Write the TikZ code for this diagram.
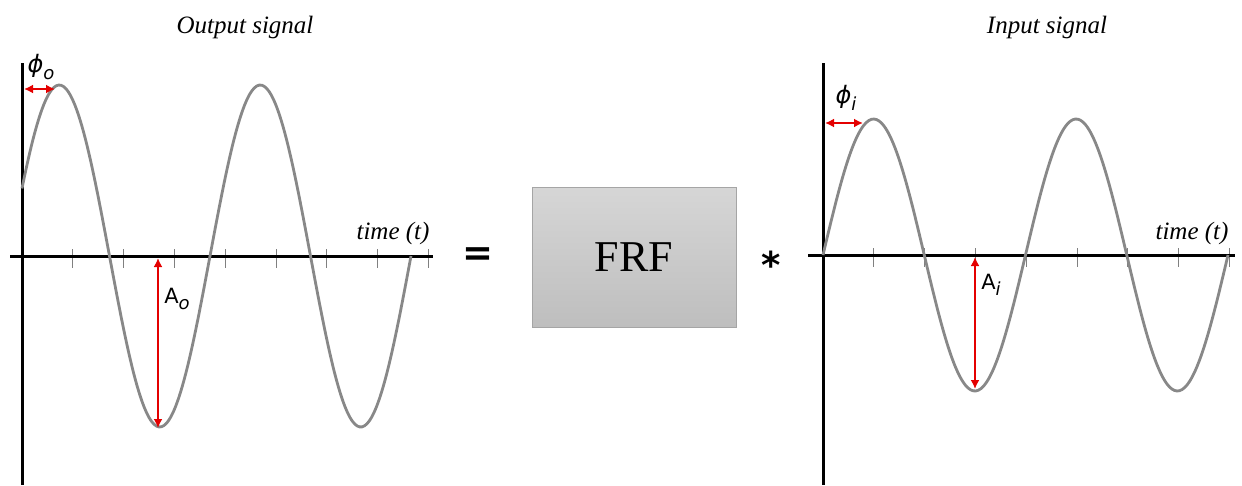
\documentclass[tikz,border=0pt]{standalone}
\usepackage{fontspec}
\setmainfont{Liberation Serif}
\newfontfamily\labelfont{DejaVu Sans}
\usetikzlibrary{arrows.meta}
\definecolor{wavegray}{RGB}{136,136,136}
\definecolor{markred}{RGB}{228,0,0}
\definecolor{boxtop}{RGB}{214,214,214}
\definecolor{boxbottom}{RGB}{190,190,190}
\definecolor{boxedge}{RGB}{165,165,165}
\newcommand{\labsub}[1]{\raisebox{-0.55ex}{\fontsize{18}{18}\selectfont\itshape #1}}

\begin{document}
\begin{tikzpicture}[x=1pt,y=-1pt]
\tikzset{
  axisline/.style={line width=3pt},
  tickline/.style={draw=gray,line width=0.9pt},
  wave/.style={draw=wavegray,line width=2.8pt},
  dimarrow/.style={{Latex[length=9pt,width=9pt]}-{Latex[length=9pt,width=9pt]},draw=markred,line width=2.2pt},
  title/.style={font=\fontsize{25}{28}\selectfont\itshape},
  symlabel/.style={font=\labelfont\fontsize{21}{24}\selectfont,inner sep=0pt},
  opsign/.style={font=\labelfont\bfseries\fontsize{37}{40}\selectfont},
  frfbox/.style={rectangle,draw=boxedge,top color=boxtop,bottom color=boxbottom,minimum width=204pt,minimum height=140pt,font=\fontsize{44}{48}\selectfont}
}
\useasboundingbox (0,0) rectangle (1242,485);
\node[title] (n_title_out) at (245,27) {Output signal};
\node[title] (n_title_in) at (1047,27) {Input signal};
\node[title] (n_time_out) at (393,233) {time (t)};
\node[title] (n_time_in) at (1192,233) {time (t)};
\node[opsign] (n_eq) at (478,257) {=};
\node[frfbox] (n_frf) at (634,257) {FRF};
\node[opsign] (n_star) at (771,265) {*};
\node[symlabel] (n_phi_o) at (41,67) {{\itshape\fontsize{24}{26}\selectfont ϕ}\labsub{o}};
\node[symlabel] (n_phi_i) at (846,98) {{\itshape\fontsize{24}{26}\selectfont ϕ}\labsub{i}};
\node[symlabel] (n_amp_o) at (177,299) {A\labsub{o}};
\node[symlabel] (n_amp_i) at (991,285) {A\labsub{i}};
\foreach \k in {1,...,8} {
  \draw[tickline] ({22+50.8*\k},249) -- ({22+50.8*\k},268);
  \draw[tickline] ({823+50.8*\k},248) -- ({823+50.8*\k},267);
}
\draw[axisline] (22,63) -- (22,485);
\draw[axisline] (10,256) -- (433,256);
\draw[axisline] (823,63) -- (823,485);
\draw[axisline] (808,255) -- (1235,255);
\draw[wave] plot[domain=22:411,samples=160,smooth] (\x,{256-171*sin(((\x-9)/201)*360)});
\draw[wave] plot[domain=823:1228,samples=160,smooth] (\x,{255-136*sin(((\x-823)/202.5)*360)});
\coordinate (c_phi_o_a) at (24,89);
\coordinate (c_phi_o_b) at (55,89);
\coordinate (c_phi_i_a) at (825,123);
\coordinate (c_phi_i_b) at (863,123);
\coordinate (c_amp_o_a) at (158,258);
\coordinate (c_amp_o_b) at (158,428);
\coordinate (c_amp_i_a) at (975,257);
\coordinate (c_amp_i_b) at (975,389);
\draw[dimarrow] (c_phi_o_a) -- (c_phi_o_b);
\draw[dimarrow] (c_phi_i_a) -- (c_phi_i_b);
\draw[dimarrow] (c_amp_o_a) -- (c_amp_o_b);
\draw[dimarrow] (c_amp_i_a) -- (c_amp_i_b);
\end{tikzpicture}
\end{document}
